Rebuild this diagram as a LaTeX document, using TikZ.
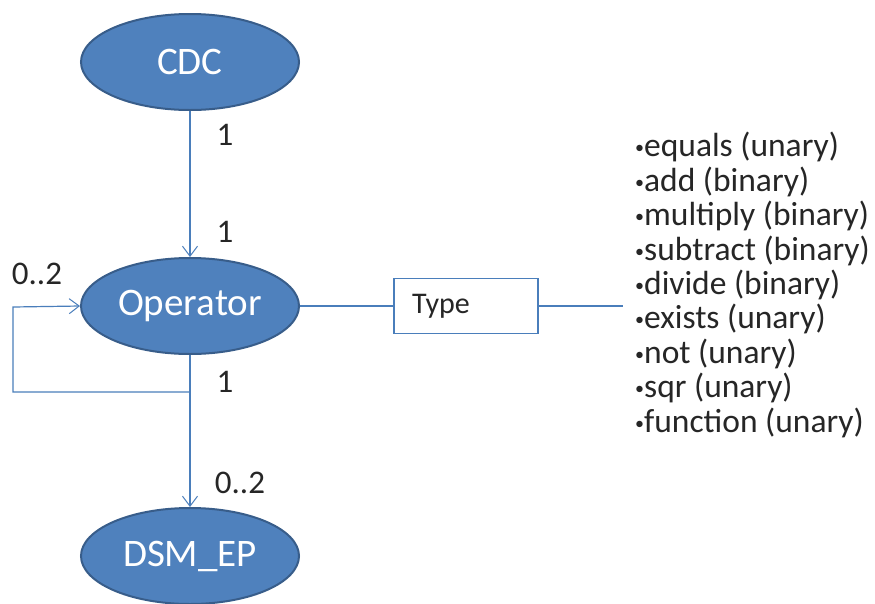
\documentclass[tikz,border=0pt]{standalone}
\usepackage{fontspec}
\setmainfont{Carlito}
\usetikzlibrary{shapes.geometric,arrows.meta}
\definecolor{ofill}{HTML}{4F81BD}
\definecolor{oedge}{HTML}{385D8A}
\definecolor{lineblue}{HTML}{4A7EBB}
\begin{document}
\begin{tikzpicture}[x=1pt,y=-1pt,
  entity/.style={ellipse,fill=ofill,draw=oedge,line width=2pt,minimum width=218pt,minimum height=96pt,inner sep=0pt,text=white,font=\fontsize{39}{44}\selectfont},
  conn/.style={draw=lineblue,line width=1.2pt},
  tip/.style={-{Straight Barb[length=10pt,width=15pt,line width=1pt]}},
  mult/.style={font=\fontsize{33}{38}\selectfont,text=black!85,inner sep=0pt},
  typebox/.style={draw=lineblue,line width=1.2pt,fill=white,minimum width=144pt,minimum height=55pt,inner sep=0pt,font=\fontsize{30}{36}\selectfont,text=black!85},
  listtext/.style={font=\fontsize{33.5}{34.4}\selectfont,text=black!85,align=left,inner sep=0pt,anchor=west}]
\useasboundingbox[fill=white] (0,0) rectangle (875,603);
\node[entity] (cdc) at (190,62) {CDC};
\node[entity] (op) at (190,306) {Operator};
\node[entity] (dsm) at (190,556) {DSM\_EP};
\node[typebox] (type) at (466,306) {\hspace*{-50pt}Type};
\coordinate (loopA) at (190,392);
\coordinate (loopB) at (13,392);
\coordinate (loopC) at (13,307);
\coordinate (listend) at (623,306);
\draw[conn,tip] (cdc) -- (op);
\draw[conn,tip] (op) -- (dsm);
\draw[conn,tip] (loopA) -- (loopB) -- (loopC) -- (op.west);
\draw[conn] (op.east) -- (type.west);
\draw[conn] (type.east) -- (listend);
\node[mult] (m1) at (225,135) {1};
\node[mult] (m2) at (225,232) {1};
\node[mult] (m3) at (225,382) {1};
\node[mult] (m4) at (37,274) {0..2};
\node[mult] (m5) at (240,483) {0..2};
\newcommand{\bul}{{\fontsize{18}{18}\selectfont\raisebox{3pt}{•}}}
\node[listtext] (list) at (635,285) {\bul equals (unary)\\ \bul add (binary)\\ \bul multiply (binary)\\ \bul subtract (binary)\\ \bul divide (binary)\\ \bul exists (unary)\\ \bul not (unary)\\ \bul sqr (unary)\\ \bul function (unary)};
\end{tikzpicture}
\end{document}
